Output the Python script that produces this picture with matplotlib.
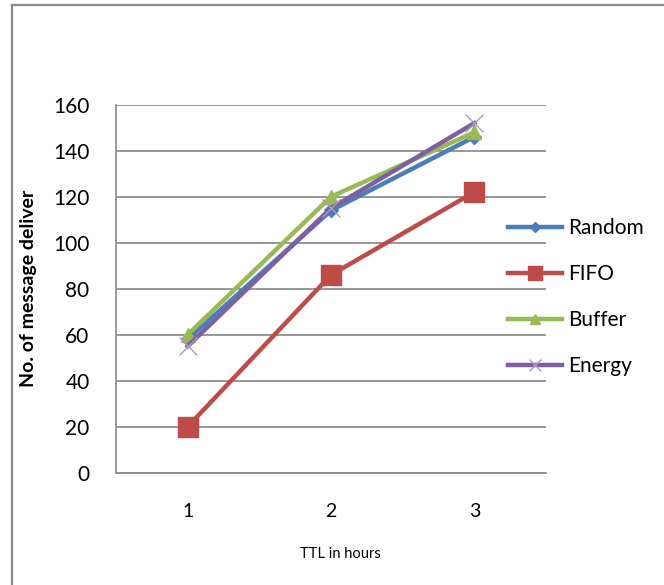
import matplotlib
matplotlib.use("Agg")
import matplotlib.pyplot as plt
from matplotlib.lines import Line2D

# data
ttl_hours = [1, 2, 3]
random_vals = [58, 114, 146]
fifo_vals = [20, 86, 122]
buffer_vals = [60, 120, 148]
energy_vals = [55, 115, 152]
y_ticks = [0, 20, 40, 60, 80, 100, 120, 140, 160]

plt.rcParams['font.family'] = ['Lato', 'DejaVu Sans']

W, H = 664, 585
fig = plt.figure(figsize=(W / 100, H / 100), dpi=100)
ax = fig.add_axes([116 / W, 1 - 472.7 / H, (546 - 116) / W, (472.7 - 104.7) / H])

grid_c = '#868686'
ax.plot(ttl_hours, random_vals, color='#4A7EBB', lw=3.2, marker='D', ms=7,
        label='Random', zorder=3)
ax.plot(ttl_hours, fifo_vals, color='#BE4B48', lw=3.2, marker='s', ms=14,
        label='FIFO', zorder=3)
ax.plot(ttl_hours, buffer_vals, color='#98B954', lw=3.2, marker='^', ms=10,
        label='Buffer', zorder=3)
ax.plot(ttl_hours, energy_vals, color='#7D60A0', lw=3.2, marker='x', ms=13,
        mew=1, mec='#A99BC4', label='Energy', zorder=3)

ax.set_xlim(0.5, 3.5)
ax.set_ylim(0, 160)
ax.set_yticks(y_ticks)
ax.set_xticks(ttl_hours)
ax.yaxis.grid(True, color=grid_c, lw=1.2)
ax.set_axisbelow(True)
for s in ['top', 'right']:
    ax.spines[s].set_visible(False)
for s in ['left', 'bottom']:
    ax.spines[s].set_color(grid_c)
    ax.spines[s].set_linewidth(1.2)
ax.tick_params(axis='y', length=0, pad=19, labelsize=15)
ax.tick_params(axis='x', length=0, pad=22, labelsize=14)

ax.set_ylabel('No. of message deliver', fontsize=14, fontweight='bold')
ax.yaxis.set_label_coords(-(116 - 37) / (546 - 116), 0.5 - (288.5 - 288.7) / 368)
ax.set_xlabel('TTL in hours', fontsize=10.5)
ax.xaxis.set_label_coords(0.5 + (340 - 331) / 430, -(547 - 472.7) / 368)

ax.legend(loc='center left', bbox_to_anchor=(508 / W, 1 - 297 / H),
          bbox_transform=fig.transFigure, frameon=False, fontsize=15,
          handlelength=2.6, handletextpad=0.3, labelspacing=1.25,
          borderpad=0, borderaxespad=0, markerscale=0.7)

# outer chart border (left and top only visible)
fig.add_artist(Line2D([12 / W, 12 / W], [0, 1 - 5 / H], transform=fig.transFigure,
                      color='#8C8C8C', lw=1.6))
fig.add_artist(Line2D([12 / W, 1], [1 - 5 / H, 1 - 5 / H], transform=fig.transFigure,
                      color='#8C8C8C', lw=1.6))

fig.savefig('out.png', dpi=100)
